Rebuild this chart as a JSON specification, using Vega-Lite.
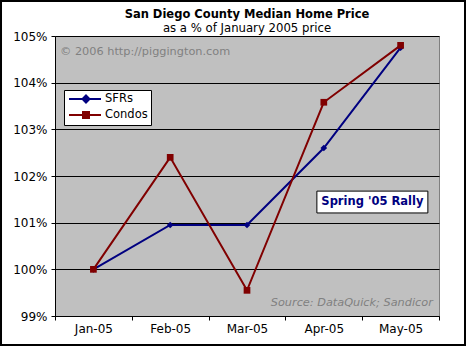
{
  "$schema": "https://vega.github.io/schema/vega-lite/v6.json",
  "width": 384,
  "height": 280,
  "autosize": {"type": "none"},
  "padding": {"left": 55, "top": 36, "right": 27, "bottom": 30},
  "background": "white",
  "config": {
    "font": "DejaVu Sans",
    "view": {"fill": "#C0C0C0", "stroke": "#808080", "strokeWidth": 1}
  },
  "title": {
    "text": "San Diego County Median Home Price",
    "subtitle": "as a % of January 2005 price",
    "anchor": "middle",
    "frame": "group",
    "font": "DejaVu Sans",
    "fontSize": 11.5,
    "fontWeight": "bold",
    "color": "black",
    "subtitleFont": "DejaVu Sans",
    "subtitleFontSize": 11.7,
    "subtitleColor": "black",
    "subtitlePadding": 3,
    "offset": 3,
    "dy": 38
  },
  "layer": [
    {
      "data": {
        "values": [
          {"month": "Jan-05", "series": "SFRs", "pct": 100.0},
          {"month": "Feb-05", "series": "SFRs", "pct": 100.95},
          {"month": "Mar-05", "series": "SFRs", "pct": 100.95},
          {"month": "Apr-05", "series": "SFRs", "pct": 102.6},
          {"month": "May-05", "series": "SFRs", "pct": 104.75},
          {"month": "Jan-05", "series": "Condos", "pct": 100.0},
          {"month": "Feb-05", "series": "Condos", "pct": 102.4},
          {"month": "Mar-05", "series": "Condos", "pct": 99.55},
          {"month": "Apr-05", "series": "Condos", "pct": 103.58},
          {"month": "May-05", "series": "Condos", "pct": 104.8}
        ]
      },
      "encoding": {
        "x": {
          "field": "month",
          "type": "ordinal",
          "sort": null,
          "scale": {"type": "band", "paddingInner": 0, "paddingOuter": 0},
          "axis": {
            "title": null,
            "tickBand": "extent",
            "labelAngle": 0,
            "domainColor": "black",
            "tickColor": "black",
            "tickSize": 4,
            "labelPadding": 3,
            "labelFontSize": 12,
            "labelColor": "black",
            "grid": false
          }
        },
        "y": {
          "field": "pct",
          "type": "quantitative",
          "scale": {"domain": [99, 105], "nice": false, "zero": false},
          "axis": {
            "title": null,
            "values": [99, 100, 101, 102, 103, 104, 105],
            "labelExpr": "datum.value + '%'",
            "grid": true,
            "gridColor": "black",
            "gridOpacity": 1,
            "gridWidth": 1,
            "domainColor": "black",
            "tickColor": "black",
            "tickSize": 4,
            "labelPadding": 4,
            "labelFontSize": 12,
            "labelColor": "black"
          }
        }
      },
      "layer": [
        {
          "mark": {"type": "line", "strokeWidth": 2},
          "encoding": {
            "color": {
              "field": "series",
              "type": "nominal",
              "sort": ["SFRs", "Condos"],
              "scale": {"domain": ["SFRs", "Condos"], "range": ["#000080", "#800000"]},
              "legend": {
                "title": null,
                "orient": "none",
                "legendX": 9,
                "legendY": 54,
                "fillColor": "white",
                "strokeColor": "black",
                "padding": 3,
                "labelFontSize": 11.5,
                "labelColor": "black",
                "labelOffset": 26,
                "labelExpr": "datum.label + '\u00a0\u00a0'",
                "symbolSize": 100,
                "symbolStrokeWidth": 2,
                "rowPadding": 1,
                "encoding": {
                  "symbols": {
                    "shape": {
                      "condition": {"test": "datum.value === 'SFRs'", "value": "M-0.8,0H5.6M2.6,-0.7L3.3,0L2.6,0.7L1.9,0Z"},
                      "value": "M-0.8,0H5.6M2,-0.6H3.2V0.6H2Z"
                    },
                    "fill": {
                      "condition": {"test": "datum.value === 'SFRs'", "value": "#000080"},
                      "value": "#800000"
                    },
                    "stroke": {
                      "condition": {"test": "datum.value === 'SFRs'", "value": "#000080"},
                      "value": "#800000"
                    },
                    "fillOpacity": {"value": 1}
                  }
                }
              }
            }
          }
        },
        {
          "transform": [{"filter": "datum.series === 'SFRs'"}],
          "mark": {"type": "point", "filled": true, "opacity": 1, "size": 45, "shape": "diamond", "color": "#000080"}
        },
        {
          "transform": [{"filter": "datum.series === 'Condos'"}],
          "mark": {"type": "point", "filled": true, "opacity": 1, "size": 45, "shape": "square", "color": "#800000"}
        }
      ]
    },
    {
      "data": {"values": [{"label": "frame"}]},
      "mark": {"type": "rect", "fillOpacity": 0, "stroke": "black", "strokeWidth": 2},
      "encoding": {
        "x": {"datum": -0.1406, "type": "quantitative", "scale": {"domain": [0, 1], "nice": false, "zero": false}, "axis": null},
        "x2": {"datum": 1.0677},
        "y": {"datum": 1.125, "type": "quantitative", "scale": {"domain": [0, 1], "nice": false, "zero": false}, "axis": null},
        "y2": {"datum": -0.1036}
      }
    },
    {
      "data": {"values": [{"label": "box"}]},
      "mark": {"type": "rect", "fill": "white", "stroke": "black", "strokeWidth": 1},
      "encoding": {
        "x": {"datum": 0.682, "type": "quantitative", "scale": {"domain": [0, 1], "nice": false, "zero": false}, "axis": null},
        "x2": {"datum": 0.971},
        "y": {"datum": 0.446, "type": "quantitative", "scale": {"domain": [0, 1], "nice": false, "zero": false}, "axis": null},
        "y2": {"datum": 0.368}
      }
    },
    {
      "data": {"values": [{"label": "Spring '05 Rally"}]},
      "mark": {"type": "text", "align": "center", "baseline": "middle", "fontWeight": "bold", "fontSize": 11.5, "color": "#000080", "font": "DejaVu Sans"},
      "encoding": {
        "x": {"datum": 0.8265, "type": "quantitative", "scale": {"domain": [0, 1], "nice": false, "zero": false}, "axis": null},
        "y": {"datum": 0.407, "type": "quantitative", "scale": {"domain": [0, 1], "nice": false, "zero": false}, "axis": null},
        "text": {"field": "label"}
      }
    },
    {
      "data": {"values": [{"label": "© 2006 http://piggington.com"}]},
      "mark": {"type": "text", "align": "left", "baseline": "middle", "fontSize": 11.3, "color": "#808080", "font": "DejaVu Sans"},
      "encoding": {
        "x": {"datum": 0.013, "type": "quantitative", "scale": {"domain": [0, 1], "nice": false, "zero": false}, "axis": null},
        "y": {"datum": 0.943, "type": "quantitative", "scale": {"domain": [0, 1], "nice": false, "zero": false}, "axis": null},
        "text": {"field": "label"}
      }
    },
    {
      "data": {"values": [{"label": "Source: DataQuick; Sandicor"}]},
      "mark": {"type": "text", "align": "right", "baseline": "middle", "fontSize": 11.3, "fontStyle": "italic", "color": "#808080", "font": "DejaVu Sans"},
      "encoding": {
        "x": {"datum": 0.984, "type": "quantitative", "scale": {"domain": [0, 1], "nice": false, "zero": false}, "axis": null},
        "y": {"datum": 0.046, "type": "quantitative", "scale": {"domain": [0, 1], "nice": false, "zero": false}, "axis": null},
        "text": {"field": "label"}
      }
    }
  ],
  "resolve": {"scale": {"x": "independent", "y": "independent"}, "axis": {"x": "independent", "y": "independent"}}
}
